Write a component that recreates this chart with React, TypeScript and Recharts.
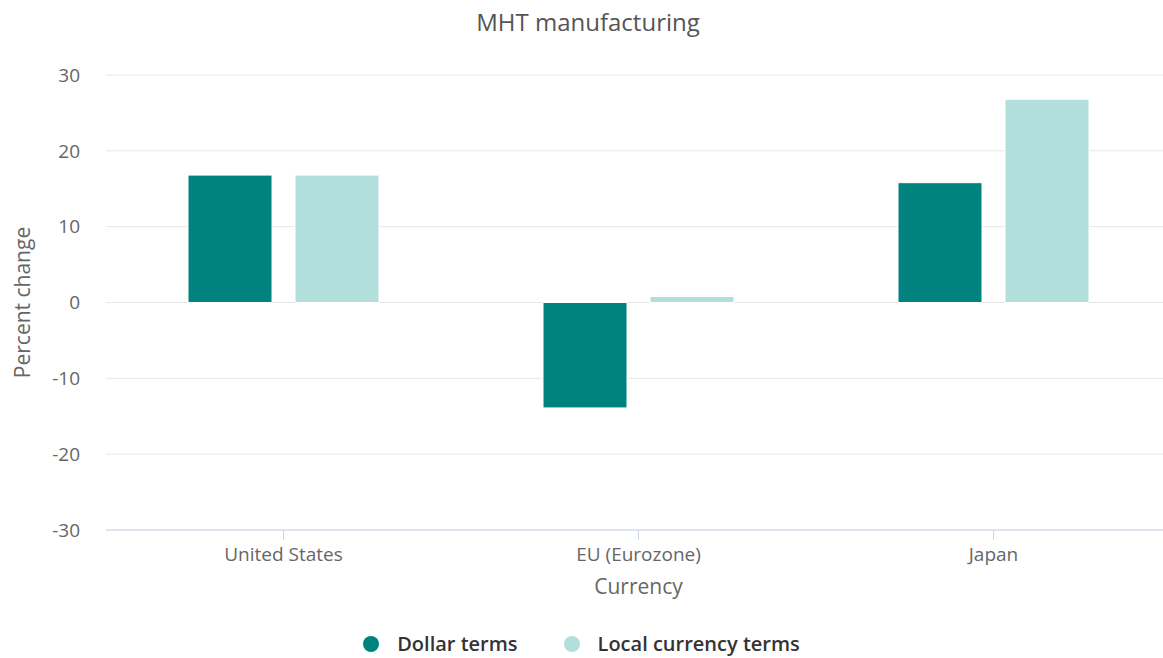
import { BarChart, Bar, XAxis, YAxis, CartesianGrid, Legend, Label } from "recharts"

// categories and series values (percent change)
const currencies = ["United States", "EU (Eurozone)", "Japan"]
const dollarTerms = [16.8, -13.9, 15.8]
const localTerms = [16.8, 0.8, 26.8]
const yTicks = [-30, -20, -10, 0, 10, 20, 30]

const DARK = "#00837f"
const LIGHT = "#b2dfdb"
const FONT = "'Open Sans', sans-serif"

const data = currencies.map((name, i) => ({
  name,
  dollar: dollarTerms[i],
  local: localTerms[i]
}))

const legendItems = [
  { label: "Dollar terms", color: DARK },
  { label: "Local currency terms", color: LIGHT }
]

// legend drawn as a centered row of dots + labels
const renderLegend = () => (
  <div
    style={{
      display: "flex",
      justifyContent: "center",
      alignItems: "center",
      gap: 46,
      fontFamily: FONT,
      fontSize: 20,
      fontWeight: 600,
      color: "#333",
      lineHeight: "26px"
    }}
  >
    {legendItems.map(item => (
      <div key={item.label} style={{ display: "flex", alignItems: "center" }}>
        <span
          style={{
            width: 16,
            height: 16,
            borderRadius: 8,
            background: item.color,
            marginRight: 18
          }}
        />
        <span>{item.label}</span>
      </div>
    ))}
  </div>
)

export default function App() {
  return (
    <div
      style={{
        position: "fixed",
        left: 0,
        top: 0,
        width: 1163,
        height: 658,
        overflow: "hidden",
        background: "#fff"
      }}
    >
      <div
        style={{
          position: "absolute",
          top: 5,
          left: 0,
          width: 1176,
          textAlign: "center",
          fontFamily: FONT,
          fontSize: 24,
          lineHeight: "34px",
          color: "#555"
        }}
      >
        MHT manufacturing
      </div>
      <BarChart
        width={1171}
        height={658}
        data={data}
        margin={{ top: 75, right: 0, bottom: 0, left: 0 }}
        barCategoryGap={82}
        barGap={23}
      >
        <CartesianGrid vertical={false} stroke="#e6e6e6" />
        <XAxis
          dataKey="name"
          height={128}
          stroke="#ccd6eb"
          tickSize={10}
          tickMargin={8}
          tick={{ fill: "#666", fontFamily: FONT, fontSize: 19 }}
        >
          <Label
            content={({ viewBox }: any) => (
              <text
                x={viewBox.x + viewBox.width / 2}
                y={594}
                textAnchor="middle"
                fill="#666"
                fontFamily={FONT}
                fontSize={21}
              >
                Currency
              </text>
            )}
          />
        </XAxis>
        <YAxis
          width={106}
          domain={[-30, 30]}
          ticks={yTicks}
          axisLine={false}
          tickLine={false}
          tickSize={0}
          tickMargin={26}
          tick={{ fill: "#666", fontFamily: FONT, fontSize: 19 }}
        >
          <Label
            content={({ viewBox }: any) => {
              const x = viewBox.x + 30
              const y = viewBox.y + viewBox.height / 2
              return (
                <text
                  x={x}
                  y={y}
                  transform={`rotate(-90 ${x} ${y})`}
                  textAnchor="middle"
                  fill="#666"
                  fontFamily={FONT}
                  fontSize={21}
                >
                  Percent change
                </text>
              )
            }}
          />
        </YAxis>
        <Legend
          verticalAlign="middle"
          align="center"
          layout="horizontal"
          content={renderLegend}
          wrapperStyle={{ top: 631, left: 0, width: 1163 }}
        />
        <Bar
          dataKey="dollar"
          name="Dollar terms"
          fill={DARK}
          stroke="#fff"
          strokeWidth={1}
          isAnimationActive={false}
        />
        <Bar
          dataKey="local"
          name="Local currency terms"
          fill={LIGHT}
          stroke="#fff"
          strokeWidth={1}
          isAnimationActive={false}
        />
      </BarChart>
    </div>
  )
}
